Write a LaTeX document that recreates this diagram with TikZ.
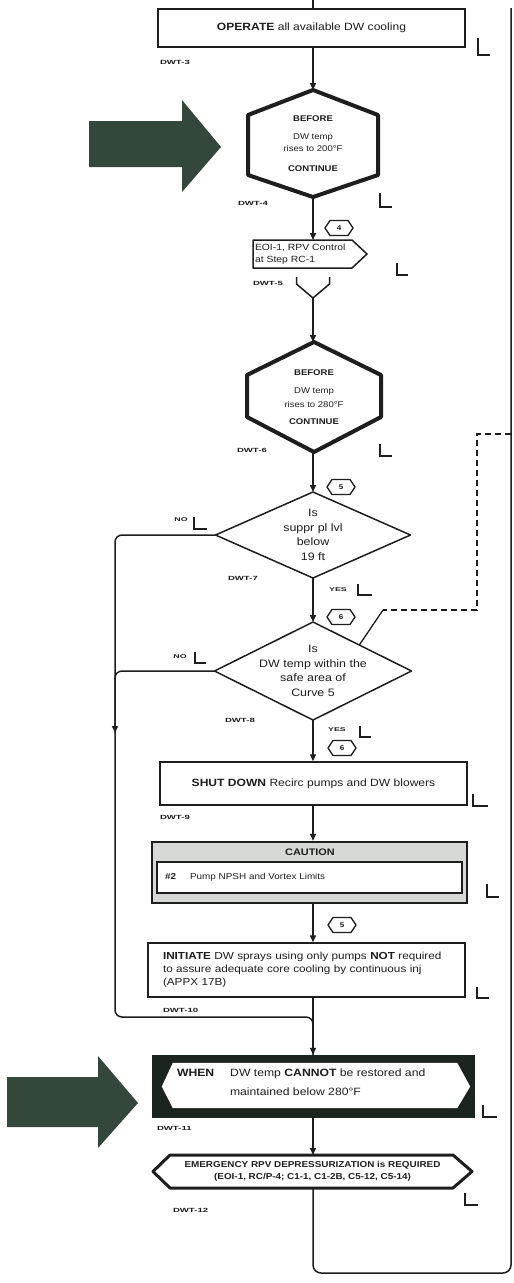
\documentclass[tikz,border=0pt]{standalone}
\usepackage{fontspec}
\setmainfont{Liberation Sans}[FakeStretch=1.15]
\newfontfamily\tagfont{Liberation Sans}[FakeStretch=1.6]
\usetikzlibrary{arrows.meta,calc}

\definecolor{ink}{HTML}{1E1E1E}
\definecolor{arrowgreen}{HTML}{33483A}
\definecolor{cautiongray}{HTML}{D6D9D6}
\definecolor{whenfill}{HTML}{1B241E}

% text sizes
\newcommand\optxt{\fontsize{10.5}{12.5}\selectfont}
\newcommand\hextxt{\fontsize{8.3}{12}\selectfont}
\newcommand\eoitxt{\fontsize{9}{12}\selectfont}
\newcommand\diatxt{\fontsize{10.8}{14.5}\selectfont}
\newcommand\sdtxt{\fontsize{10.5}{12.5}\selectfont}
\newcommand\cauthead{\fontsize{9.5}{11}\selectfont\bfseries}
\newcommand\cautbody{\fontsize{8.6}{10}\selectfont}
\newcommand\inittxt{\fontsize{10.2}{13}\selectfont}
\newcommand\whentxt{\fontsize{10.6}{19}\selectfont}
\newcommand\emertxt{\fontsize{8.6}{11.5}\selectfont\bfseries}
\newcommand\tagnum{\fontsize{7}{8}\selectfont\bfseries}
\newcommand\stepid{\tagfont\bfseries\fontsize{6}{7}\selectfont}
\newcommand\yntxt{\tagfont\bfseries\fontsize{5.5}{6}\selectfont}

% outlines drawn around named nodes
\newcommand\hexoutline[3]{%
  \draw[hexline] (#1.north) -- ($(#1.north east)+(0,#2)$) -- ($(#1.south east)+(0,-#3)$)
    -- (#1.south) -- ($(#1.south west)+(0,-#3)$) -- ($(#1.north west)+(0,#2)$) -- cycle;}
\newcommand\tagoutline[1]{%
  \draw[tagline] (#1.west) -- ($(#1.north west)+(5,0)$) -- ($(#1.north east)+(-5,0)$)
    -- (#1.east) -- ($(#1.south east)+(-5,0)$) -- ($(#1.south west)+(5,0)$) -- cycle;}
\newcommand\diaoutline[1]{%
  \draw[boxline] (#1.north) -- (#1.east) -- (#1.south) -- (#1.west) -- cycle;}

\tikzset{
  every node/.append style={text=ink},
  conn/.style={draw=ink, line width=1.5pt},
  flow/.style={conn, -{Triangle[length=7pt,width=6pt]}},
  boxline/.style={draw=ink, line width=1.5pt, line join=round},
  hexline/.style={draw=ink, line width=4pt, line join=round},
  tagline/.style={draw=ink, line width=1.3pt, line join=round},
  markline/.style={draw=ink, line width=1.5pt},
  box/.style={draw=ink, line width=1.5pt, fill=white, inner sep=0pt},
  plain/.style={inner sep=0pt, outer sep=0pt},
  tagbox/.style={plain, minimum width=28, minimum height=15, font=\tagnum},
  stepno/.style={plain, anchor=west, font=\stepid},
  yn/.style={plain, font=\yntxt},
}

\begin{document}
\begin{tikzpicture}[x=1pt,y=-1pt]
\fill[white] (0,0) rectangle (514,1283);
\useasboundingbox (0,0) rectangle (514,1283);

% ---------- large pointer arrows ----------
\fill[arrowgreen] (89,121) -- (182,121) -- (182,100) -- (221,147) -- (182,192) -- (182,167) -- (89,167) -- cycle;
\fill[arrowgreen] (7,1077) -- (98,1077) -- (98,1056) -- (138,1103) -- (98,1148) -- (98,1127) -- (7,1127) -- cycle;

% ---------- steps ----------
\coordinate (entry) at (313,0);
\node[box, minimum width=307, minimum height=38, font=\optxt] (op) at (311.5,28)
  {\textbf{OPERATE} all available DW cooling};
\node[stepno] (id3) at (160,62) {DWT-3};

\node[plain, minimum width=130, minimum height=107, font=\hextxt, align=center] (h1) at (313,143.5)
  {\textbf{BEFORE}\\[6pt]DW temp\\rises to 200°F\\[8pt]\textbf{CONTINUE}};
\hexoutline{h1}{25}{22}
\node[stepno] (id4) at (238,203) {DWT-4};

\node[tagbox] (t4) at (339,228) {4};
\tagoutline{t4}

\node[plain, minimum width=114, minimum height=28, text width=110, align=left, font=\eoitxt] (eoi) at (310,254)
  {EOI-1, RPV Control\\at Step RC-1};
\draw[boxline] (eoi.north west) -- ($(eoi.north east)+(-15,0)$) -- (eoi.east)
  -- ($(eoi.south east)+(-15,0)$) -- (eoi.south west) -- cycle;
\node[stepno] (id5) at (253,283) {DWT-5};

\node[plain, minimum width=33, minimum height=21] (fn) at (313,287.5) {};
\draw[boxline] (fn.north west) -- ($(fn.north west)+(0,7)$) -- (fn.south)
  -- ($(fn.north east)+(0,7)$) -- (fn.north east);

\node[plain, minimum width=134, minimum height=110, font=\hextxt, align=center] (h2) at (314,397)
  {\textbf{BEFORE}\\[6pt]DW temp\\[2pt]rises to 280°F\\[5pt]\textbf{CONTINUE}};
\hexoutline{h2}{33}{35}
\node[stepno] (id6) at (237,450) {DWT-6};

\node[tagbox] (t5a) at (341,487) {5};
\tagoutline{t5a}

\node[plain, minimum width=195, minimum height=86, font=\diatxt, align=center] (d1) at (313,535)
  {Is\\suppr pl lvl\\below\\19 ft};
\diaoutline{d1}
\node[yn] (no1) at (181,520) {NO};
\node[stepno] (id7) at (228,578) {DWT-7};
\node[yn] (yes1) at (338,590) {YES};

\node[tagbox] (t6a) at (341,617) {6};
\tagoutline{t6a}

\node[plain, minimum width=197, minimum height=98, font=\diatxt, align=center] (d2) at (313,671)
  {Is\\DW temp within the\\safe area of\\Curve 5};
\diaoutline{d2}
\node[yn] (no2) at (180,657) {NO};
\node[stepno] (id8) at (225,720) {DWT-8};
\node[yn] (yes2) at (337,730) {YES};

\node[tagbox] (t6b) at (342,748) {6};
\tagoutline{t6b}

\node[box, minimum width=307, minimum height=43, font=\sdtxt] (sd) at (313.5,783.5)
  {\textbf{SHUT DOWN} Recirc pumps and DW blowers};
\node[stepno] (id9) at (160,817) {DWT-9};

\node[draw=ink, line width=2.5pt, fill=cautiongray, minimum width=315, minimum height=61, inner sep=0pt] (caut) at (309.5,872.5) {};
\node[plain, font=\cauthead] (cauthd) at (310,852.5) {CAUTION};
\node[draw=ink, line width=1.8pt, fill=white, minimum width=305, minimum height=31, inner sep=0pt,
  text width=289, align=left, font=\cautbody] (cautin) at (309.5,877.5)
  {\textbf{\#2}\hspace{14pt}Pump NPSH and Vortex Limits};

\node[tagbox] (t5b) at (342,925) {5};
\tagoutline{t5b}

\node[box, minimum width=317, minimum height=54, text width=287, align=left, font=\inittxt] (init) at (306.5,970)
  {\textbf{INITIATE} DW sprays using only pumps \textbf{NOT} required\\to assure adequate core cooling by continuous inj\\(APPX 17B)};
\node[stepno] (id10) at (163,1010) {DWT-10};

\node[fill=whenfill, minimum width=323, minimum height=63, inner sep=0pt] (when) at (313.5,1086.5) {};
\fill[white] ($(when.west)+(10,0)$) -- ($(when.north west)+(21,8)$) -- ($(when.north east)+(-18,8)$)
  -- ($(when.east)+(-5,0)$) -- ($(when.south east)+(-18,-10)$) -- ($(when.south west)+(21,-10)$) -- cycle;
\node[plain, anchor=west, align=left, font=\whentxt] (whentext) at (177,1082.5)
  {\textbf{WHEN}\hspace{16pt}DW temp \textbf{CANNOT} be restored and\\\hspace*{53pt}maintained below 280°F};
\node[stepno] (id11) at (157,1128) {DWT-11};

\node[plain, minimum width=319, minimum height=33, align=center, font=\emertxt] (emer) at (312.5,1171.5)
  {EMERGENCY RPV DEPRESSURIZATION is REQUIRED\\(EOI-1, RC/P-4; C1-1, C1-2B, C5-12, C5-14)};
\draw[draw=ink, line width=3pt, line join=round] (emer.west) -- ($(emer.north west)+(17,0)$) -- ($(emer.north east)+(-19,0)$)
  -- (emer.east) -- ($(emer.south east)+(-19,0)$) -- ($(emer.south west)+(17,0)$) -- cycle;
\node[stepno] (id12) at (173,1210) {DWT-12};

% ---------- place-keeping marks ----------
\draw[markline] (478,38) |- (490,55);
\draw[markline] (380,193) |- (392,207);
\draw[markline] (397,263) |- (408,275);
\draw[markline] (380,444) |- (392,456);
\draw[markline] (194,517) |- (207,529);
\draw[markline] (358,584) |- (372,595);
\draw[markline] (195,652) |- (206,663);
\draw[markline] (360,726) |- (371,737);
\draw[markline] (473,794) |- (488,806);
\draw[markline] (487,884) |- (499,897);
\draw[markline] (477,987) |- (489,998);
\draw[markline] (483,1105) |- (497,1117);
\draw[markline] (465,1193) |- (478,1205);

% ---------- connectors ----------
\draw[conn] (entry) -- (entry |- op.north);
\draw[flow] (op.south -| h1.north) -- (h1.north);
\draw[flow] (h1.south) -- (h1.south |- eoi.north);
\draw[flow] (fn.south) -- (fn.south |- h2.north);
\draw[flow] (h2.south -| d1.north) -- (d1.north);
\draw[flow] (d1.south) -- (d2.north);
\draw[flow] (d2.south) -- (d2.south |- sd.north);
\draw[flow] (d2.south |- sd.south) -- (d2.south |- caut.north);
\draw[flow] (d2.south |- caut.south) -- (d2.south |- init.north);
\draw[flow] (d2.south |- init.south) -- (d2.south |- when.north);
\draw[flow] (d2.south |- when.south) -- (d2.south |- emer.north);

% NO branches down the left side
\coordinate (la) at (115,733);
\coordinate (lb) at (115,1017);
\draw[flow, rounded corners=7pt] (d1.west) -| (la);
\draw[conn, rounded corners=7pt] (d2.west) -| (la);
\draw[conn, rounded corners=7pt] (la) -- (lb) -| (d2.south |- when.north);

% return line on the right
\coordinate (rbot) at (313,1273);
\coordinate (rtop) at (511,8);
\draw[conn, rounded corners=8pt] (d2.south |- emer.south) -- (rbot) -| (rtop);

% dashed branch into the second decision
\coordinate (dj) at (511,434);
\coordinate (dk) at (383,610);
\draw[conn, line width=1.4pt, dash pattern=on 6pt off 4pt] (dj) -- (477,434) -- (477,610) -- (dk);
\draw[conn, line width=1.3pt] (dk) -- ($(d2.north)!0.47!(d2.east)$);
\end{tikzpicture}
\end{document}
